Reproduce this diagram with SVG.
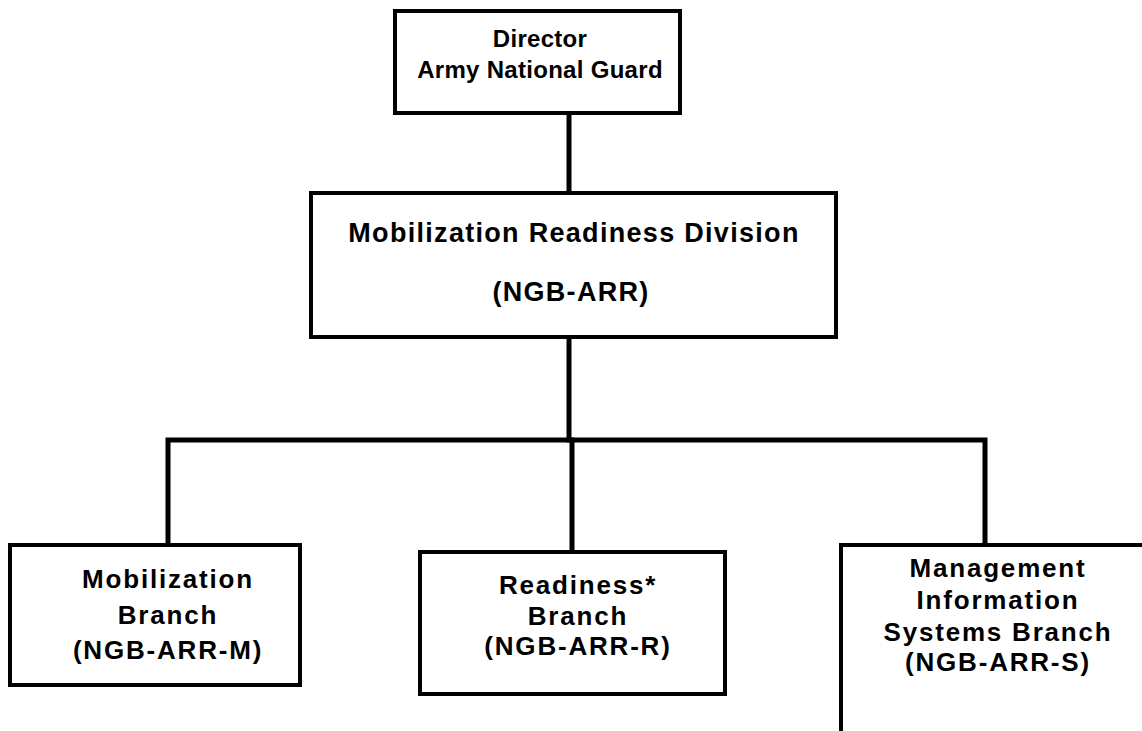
<svg xmlns="http://www.w3.org/2000/svg" width="1142" height="731" viewBox="0 0 1142 731">
<style>
.box{fill:#fff;stroke:#000;stroke-width:4}
.conn{fill:none;stroke:#000;stroke-width:5;stroke-linecap:square}
text{font-family:"Liberation Sans",Arial,sans-serif;font-weight:bold;fill:#000;text-anchor:middle}
.t1{font-size:24px;letter-spacing:0.3px}
.t2{font-size:27px;letter-spacing:1.3px}
.t3{font-size:26px;letter-spacing:1.8px}
</style>
<rect width="1142" height="731" fill="#fff"/>
<g id="connectors">
<path class="conn" d="M569,113 V193"/>
<path class="conn" d="M569,337 V440"/>
<path class="conn" d="M168,545 V440 H985 V545"/>
<path class="conn" d="M572,440 V552"/>
</g>
<g id="director">
<rect class="box" x="395" y="11" width="285" height="102"/>
<text class="t1" x="540" y="47">Director</text>
<text class="t1" x="540" y="78">Army National Guard</text>
</g>
<g id="division">
<rect class="box" x="311" y="193" width="525" height="144"/>
<text class="t2" x="574" y="242">Mobilization Readiness Division</text>
<text class="t2" x="571" y="301">(NGB-ARR)</text>
</g>
<g id="mobilization">
<rect class="box" x="10" y="545" width="290" height="140"/>
<text class="t3" x="168" y="588">Mobilization</text>
<text class="t3" x="168" y="624">Branch</text>
<text class="t3" x="168" y="659">(NGB-ARR-M)</text>
</g>
<g id="readiness">
<rect class="box" x="420" y="552" width="305" height="142"/>
<text class="t3" x="578" y="594">Readiness*</text>
<text class="t3" x="578" y="625">Branch</text>
<text class="t3" x="578" y="655">(NGB-ARR-R)</text>
</g>
<g id="mis">
<rect class="box" x="841" y="545" width="310" height="200"/>
<text class="t3" x="998" y="577">Management</text>
<text class="t3" x="998" y="609">Information</text>
<text class="t3" x="998" y="641">Systems Branch</text>
<text class="t3" x="998" y="671">(NGB-ARR-S)</text>
</g>
</svg>
